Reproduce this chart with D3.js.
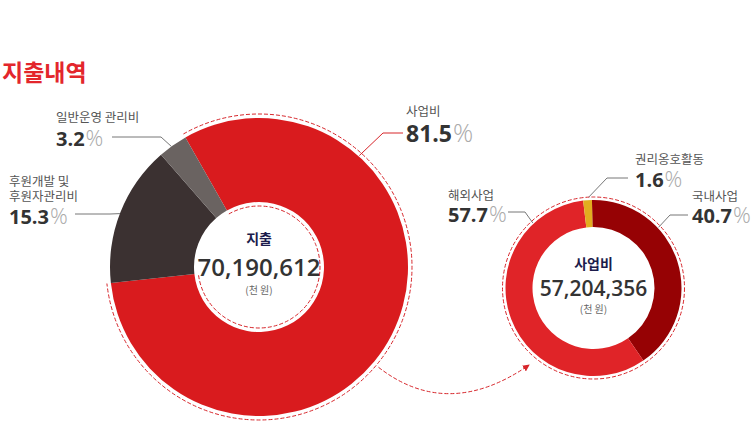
<!DOCTYPE html>
<html>
<head>
<meta charset="utf-8">
<script src="https://cdn.jsdelivr.net/npm/d3@7"></script>
<style>
  body { margin: 0; background: #fff; }
  svg { display: block; font-family: "Noto Sans CJK KR", "Noto Sans", sans-serif; }
</style>
</head>
<body>
<svg id="chart" width="752" height="422"></svg>
<script>
// 지출 (천 원)
const spendLabels = ['사업비', '후원개발 및|후원자관리비', '일반운영 관리비'];
const spendValues = [81.5, 15.3, 3.2];
const spendTotal = '70,190,612';

// 사업비 내역
const bizLabels = ['국내사업', '해외사업', '권리옹호활동'];
const bizValues = [40.7, 57.7, 1.6];
const bizTotal = '57,204,356';

const SPEND_COLORS = ['#d91b1e', '#3b3131', '#6a6361'];
const BIZ_COLORS = ['#960204', '#e02428', '#e2ad1f'];
const DASH = '#d7262b';
const rad = deg => deg * Math.PI / 180;

const svg = d3.select('#chart');

svg.append('text')
  .attr('x', 2).attr('y', 81)
  .attr('font-size', 23).attr('font-weight', 700)
  .attr('fill', '#e3262c')
  .text('지출내역');

// arrow marker
svg.append('defs').append('marker')
  .attr('id', 'head')
  .attr('viewBox', '0 0 10 10')
  .attr('refX', 8).attr('refY', 5)
  .attr('markerWidth', 7).attr('markerHeight', 7)
  .attr('orient', 'auto')
  .append('path')
  .attr('d', 'M0,0L10,5L0,10z')
  .attr('fill', DASH);

function polar(c, r, a) {
  return [c[0] + r * Math.sin(a), c[1] - r * Math.cos(a)];
}

function donut(opt) {
  const { center, inner, outer, labels, values, colors, start } = opt;
  const pie = d3.pie().sort(null).startAngle(start).endAngle(start + 2 * Math.PI);
  const arcs = pie(values);
  const arc = d3.arc().innerRadius(inner).outerRadius(outer);

  const g = svg.append('g').attr('transform', `translate(${center})`);
  g.selectAll('path.slice')
    .data(arcs)
    .join('path')
    .attr('class', 'slice')
    .attr('d', arc)
    .attr('fill', (d, i) => colors[i]);

  // center text
  g.append('text').attr('text-anchor', 'middle')
    .attr('y', opt.titleY).attr('font-size', 14).attr('font-weight', 700)
    .attr('fill', '#1c1c4c').text(opt.title);
  g.append('text').attr('text-anchor', 'middle')
    .attr('y', opt.totalY).attr('font-size', opt.totalSize).attr('font-weight', 600)
    .attr('font-family', '"Open Sans", sans-serif')
    .attr('fill', '#333').text(opt.total);
  g.append('text').attr('text-anchor', 'middle')
    .attr('y', opt.unitY).attr('font-size', 10)
    .attr('fill', '#666').text('(천 원)');

  // labels + leader lines
  opt.layout.forEach((l, i) => {
    const lines = labels[i].split('|');
    const t = svg.append('text')
      .attr('x', l.x).attr('y', l.y)
      .attr('font-size', 12.5).attr('fill', '#555');
    lines.forEach((s, k) => t.append('tspan')
      .attr('x', l.x).attr('dy', k ? 15 : 0).text(s));
    const ny = l.y + 15 * (lines.length - 1) + l.gap;
    const v = svg.append('text')
      .attr('x', l.x).attr('y', ny);
    v.append('tspan')
      .attr('font-size', l.size).attr('font-weight', 700)
      .attr('font-family', '"Open Sans", sans-serif')
      .attr('fill', '#333').text(values[i].toFixed(1));
    v.append('tspan')
      .attr('font-size', l.size + 2).attr('font-weight', 300)
      .attr('font-family', '"Open Sans", sans-serif')
      .attr('dx', 1)
      .attr('fill', '#aaa').text('%');

    const p = polar(center, l.r, rad(l.angle));
    svg.append('polyline')
      .attr('points', [l.from, l.elbow, p].map(q => q.join(',')).join(' '))
      .attr('fill', 'none')
      .attr('stroke', l.stroke || '#777')
      .attr('stroke-width', 1);
  });

  return { arcs, g };
}

const L = [259, 267];
const R = [593.5, 288];

const left = donut({
  center: L, inner: 65, outer: 149,
  labels: spendLabels, values: spendValues, colors: SPEND_COLORS,
  start: rad(-29.6),
  title: '지출', titleY: -23, total: spendTotal, totalY: 9, totalSize: 24, unitY: 27,
  layout: [
    { x: 406, y: 116, gap: 26, size: 23, from: [403, 133], elbow: [383, 133], r: 150, angle: 42, stroke: '#d7262b' },
    { x: 9, y: 186, gap: 23, size: 20, from: [75, 214], elbow: [110, 214], r: 149, angle: 291 },
    { x: 56, y: 122, gap: 24, size: 20, from: [112, 137], elbow: [161, 137], r: 149, angle: 324 }
  ]
});

// dashed outline around 사업비 slice
const red = left.arcs[0];
[153, 61].forEach(r => {
  const p = d3.path();
  p.arc(0, 0, r, red.startAngle - Math.PI / 2, red.endAngle - Math.PI / 2);
  left.g.append('path')
    .attr('d', p.toString())
    .attr('fill', 'none')
    .attr('stroke', DASH)
    .attr('stroke-width', 1)
    .attr('stroke-dasharray', '4,2');
});

const right = donut({
  center: R, inner: 61, outer: 88,
  labels: bizLabels, values: bizValues, colors: BIZ_COLORS,
  start: rad(-1),
  title: '사업비', titleY: -19, total: bizTotal, totalY: 8, totalSize: 21, unitY: 25,
  layout: [
    { x: 692, y: 201, gap: 22, size: 20, from: [688, 215], elbow: [670, 215], r: 89, angle: 47 },
    { x: 448, y: 200, gap: 22, size: 20, from: [508, 212], elbow: [525, 212], r: 89, angle: -43 },
    { x: 635, y: 164, gap: 23, size: 20, from: [628, 178], elbow: [607, 178], r: 91, angle: -3 }
  ]
});

right.g.append('circle')
  .attr('r', 91)
  .attr('fill', 'none')
  .attr('stroke', DASH)
  .attr('stroke-width', 1)
  .attr('stroke-dasharray', '4,2');

// arrow from 사업비 slice to its breakdown
const a0 = polar(L, 156, rad(130));
const a1 = polar(R, 101, rad(220));
const ctrl = [(a0[0] + a1[0]) / 2 - 6, 421];
svg.append('path')
  .attr('d', `M${a0}Q${ctrl} ${a1}`)
  .attr('fill', 'none')
  .attr('stroke', DASH)
  .attr('stroke-width', 1)
  .attr('stroke-dasharray', '4,2')
  .attr('marker-end', 'url(#head)');
</script>
</body>
</html>
